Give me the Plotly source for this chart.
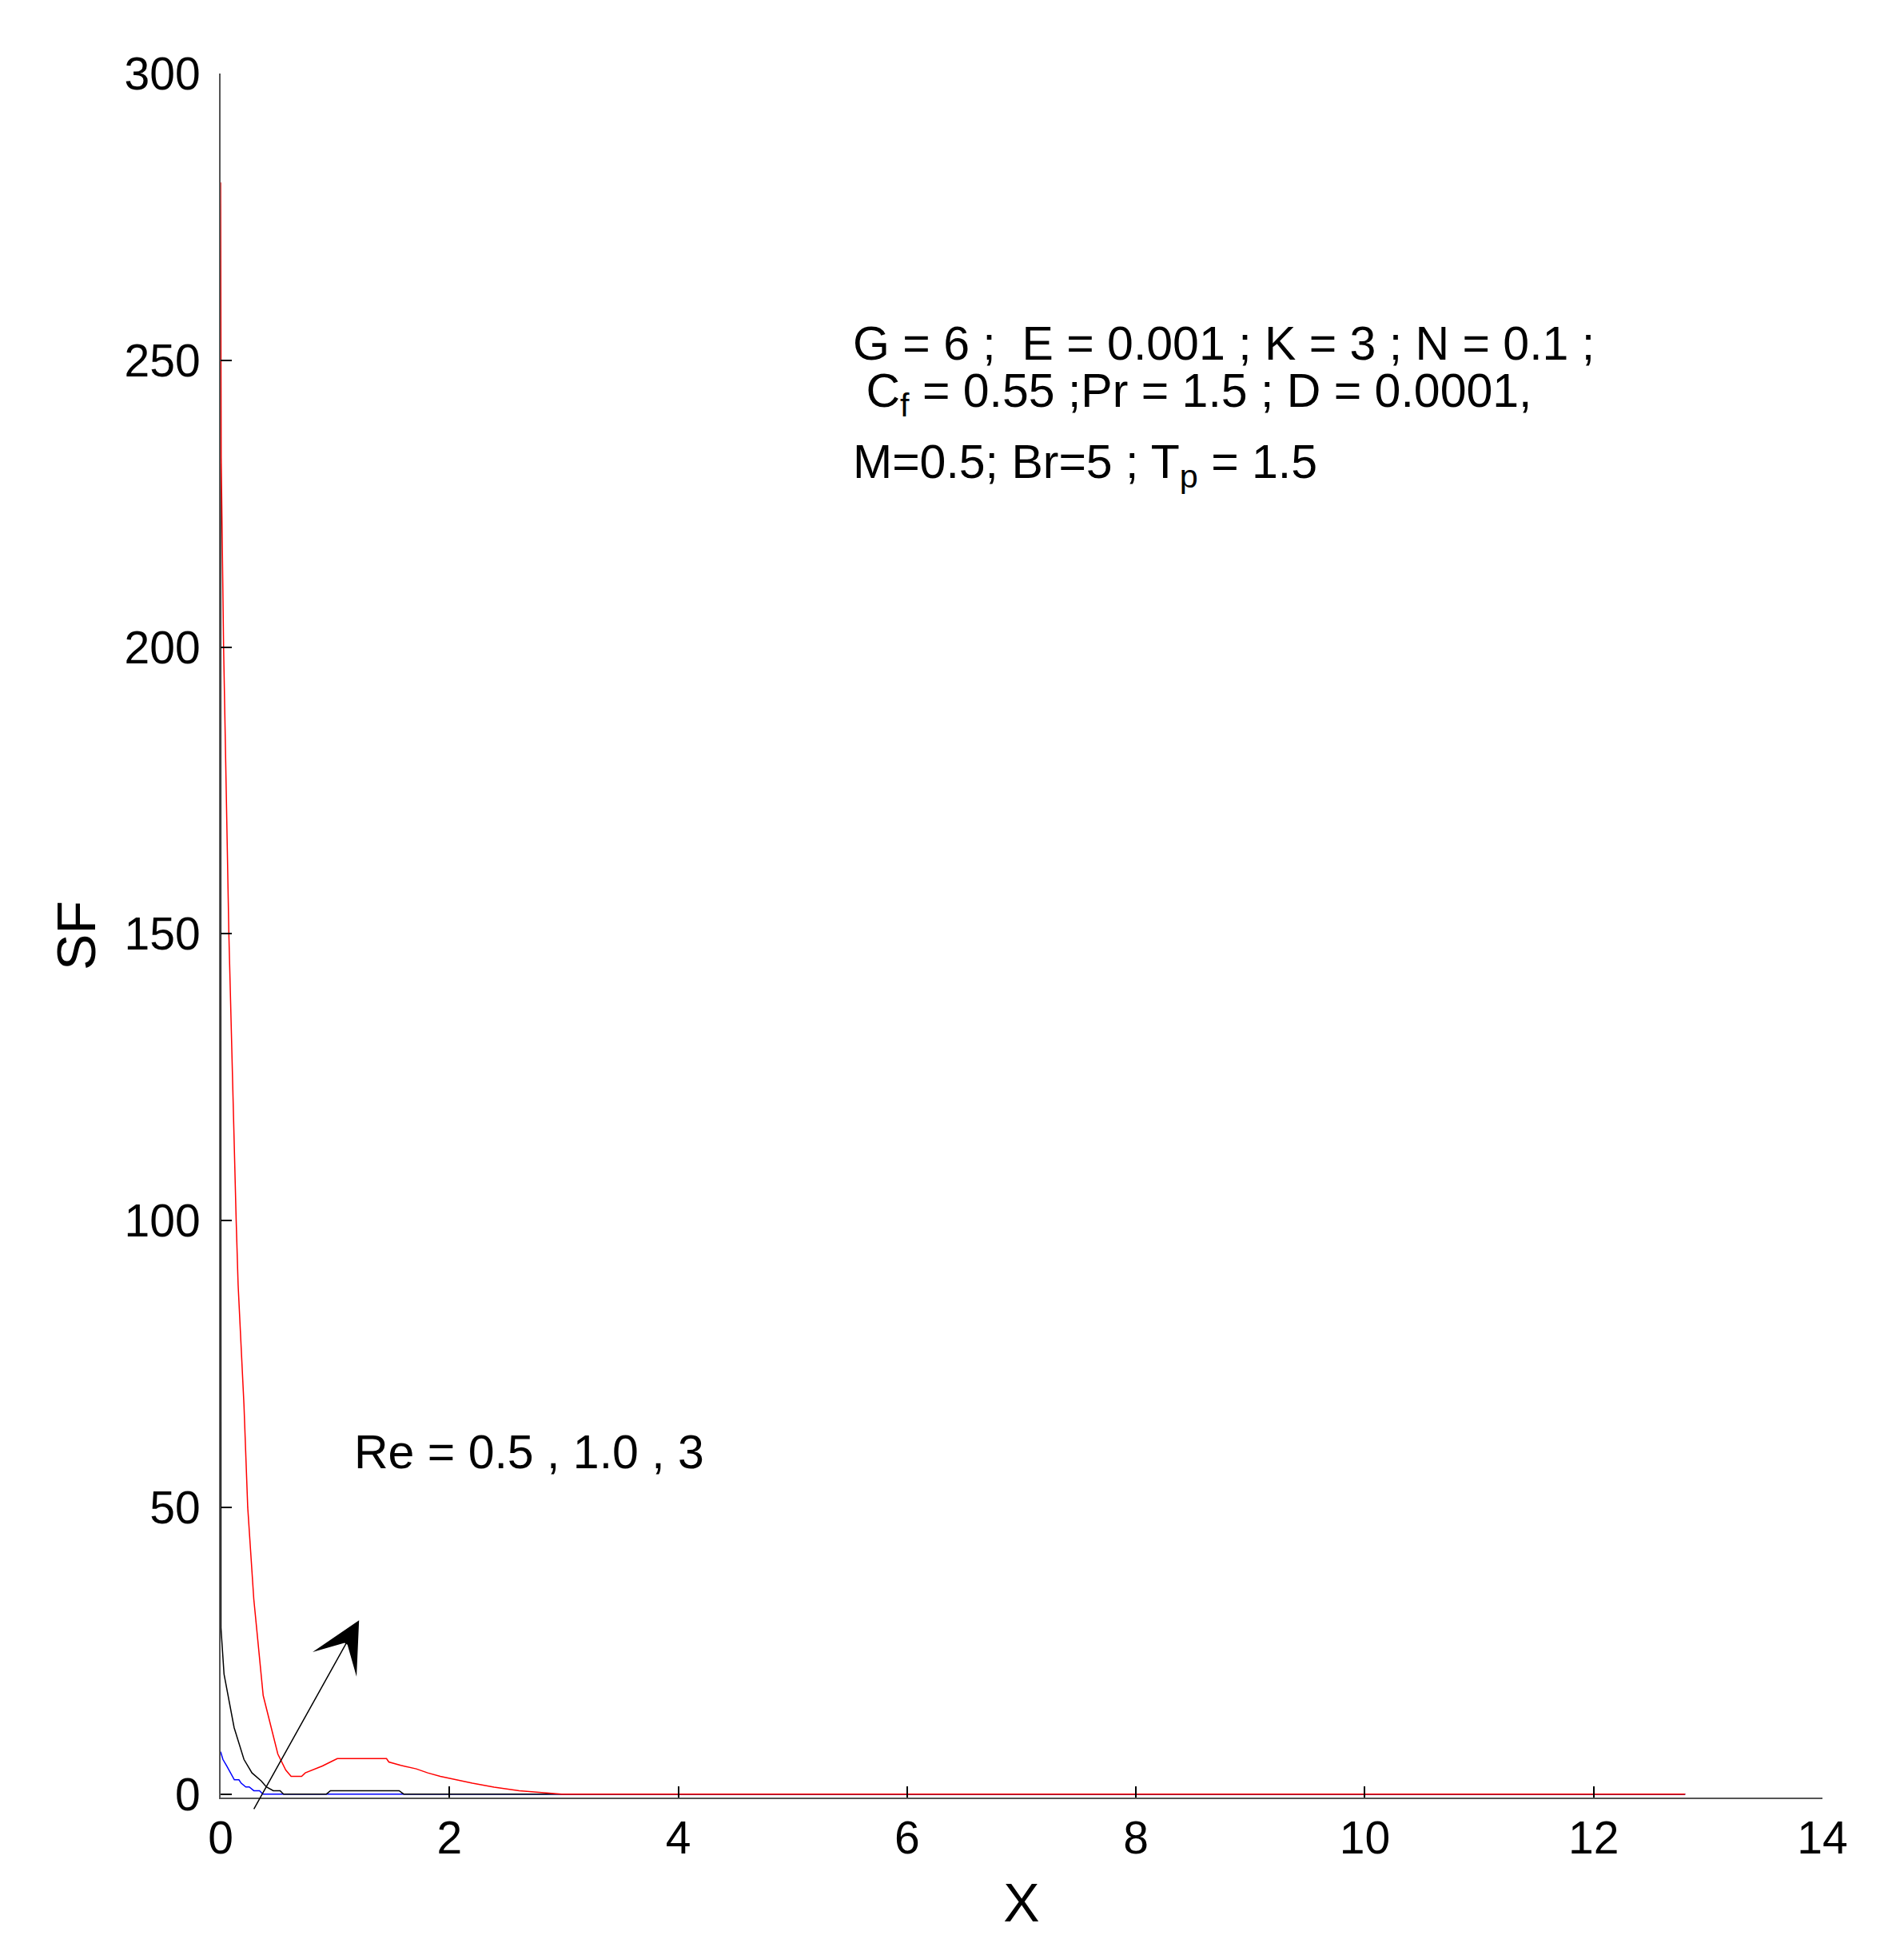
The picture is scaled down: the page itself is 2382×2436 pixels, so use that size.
import plotly.graph_objects as go

# Re = 0.5 (blue), 1.0 (black), 3 (red)
x_blue = [0, 0.02, 0.054, 0.088, 0.12, 0.16, 0.18, 0.22, 0.25, 0.29, 0.34, 0.37, 12.8]
sf_blue = [7.4, 6.05, 4.9, 3.7, 2.5, 2.5, 1.9, 1.25, 1.25, 0.6, 0.6, 0, 0]

x_black = [0, 0.003, 0.03, 0.118, 0.204, 0.274, 0.355, 0.40, 0.46, 0.52, 0.55, 0.925, 0.96, 1.56, 1.6, 12.8]
sf_black = [232, 29, 20.9, 11.6, 6.05, 3.7, 2.3, 1.25, 0.6, 0.6, 0, 0, 0.6, 0.6, 0, 0]

x_red = [0, 0.005, 0.026, 0.04, 0.072, 0.136, 0.153, 0.204, 0.237, 0.29, 0.372, 0.50, 0.569,
         0.616, 0.708, 0.74, 0.82, 0.89, 0.96, 1.02, 1.45, 1.47, 1.575, 1.71, 1.81, 1.92,
         2.06, 2.20, 2.39, 2.61, 2.98, 12.8]
sf_red = [281, 233, 200, 186, 150, 100, 88.8, 67.9, 50, 34, 17.2, 7.0, 4.2,
          3.1, 3.1, 3.7, 4.3, 4.9, 5.6, 6.2, 6.2, 5.6, 5.0, 4.4, 3.7, 3.1,
          2.5, 1.9, 1.2, 0.6, 0, 0]

x_ticks = [0, 2, 4, 6, 8, 10, 12, 14]
y_ticks = [0, 50, 100, 150, 200, 250, 300]

font = "Liberation Sans, Arial, sans-serif"

fig = go.Figure()
fig.add_trace(go.Scatter(x=x_blue, y=sf_blue, mode="lines", name="Re = 0.5",
                         line=dict(color="#0000ff", width=1.5)))
fig.add_trace(go.Scatter(x=x_black, y=sf_black, mode="lines", name="Re = 1.0",
                         line=dict(color="#000000", width=1.5)))
fig.add_trace(go.Scatter(x=x_red, y=sf_red, mode="lines", name="Re = 3",
                         line=dict(color="#ff0000", width=1.5)))

# parameter block
txt_font = dict(family=font, size=59, color="black")
fig.add_annotation(x=5.51, y=252.9, xref="x", yref="y", xanchor="left", yanchor="middle",
                   text="G = 6 ;  E = 0.001 ; K = 3 ; N = 0.1 ;", showarrow=False, font=txt_font)
fig.add_annotation(x=5.51, y=244.1, xref="x", yref="y", xanchor="left", yanchor="middle",
                   text=" C<sub>f</sub> = 0.55 ;Pr = 1.5 ; D = 0.0001,", showarrow=False, font=txt_font)
fig.add_annotation(x=5.51, y=231.7, xref="x", yref="y", xanchor="left", yanchor="middle",
                   text="M=0.5; Br=5 ; T<sub>p</sub> = 1.5", showarrow=False, font=txt_font)

fig.add_annotation(x=1.15, y=59.6, xref="x", yref="y", xanchor="left", yanchor="middle",
                   text="Re = 0.5 , 1.0 , 3", showarrow=False, font=txt_font)

# arrow showing increasing Re
fig.add_annotation(x=1.21, y=30.3, ax=0.285, ay=-2.8, xref="x", yref="y",
                   axref="x", ayref="y", text="", showarrow=True,
                   arrowhead=3, arrowsize=7, arrowwidth=1.5, arrowcolor="black")

fig.update_layout(
    width=2382, height=2436,
    margin=dict(l=268, r=110, t=84, b=195),
    paper_bgcolor="white", plot_bgcolor="white",
    showlegend=False,
    font=dict(family=font, size=57, color="black"),
)
fig.update_xaxes(range=[0, 14], tickvals=x_ticks, ticks="inside", ticklen=14, tickwidth=2,
                 tickcolor="black", showline=True, linecolor="#555555", linewidth=2,
                 showgrid=False, zeroline=False, title=dict(text="X", standoff=26),
                 ticklabelstandoff=0)
fig.update_yaxes(range=[-0.6, 300], tickvals=y_ticks, ticks="inside", ticklen=14, tickwidth=2,
                 tickcolor="black", showline=True, linecolor="#555555", linewidth=2,
                 showgrid=False, zeroline=False, title=dict(text="SF", standoff=14),
                 ticklabelstandoff=12)

fig.write_html("out.html")
